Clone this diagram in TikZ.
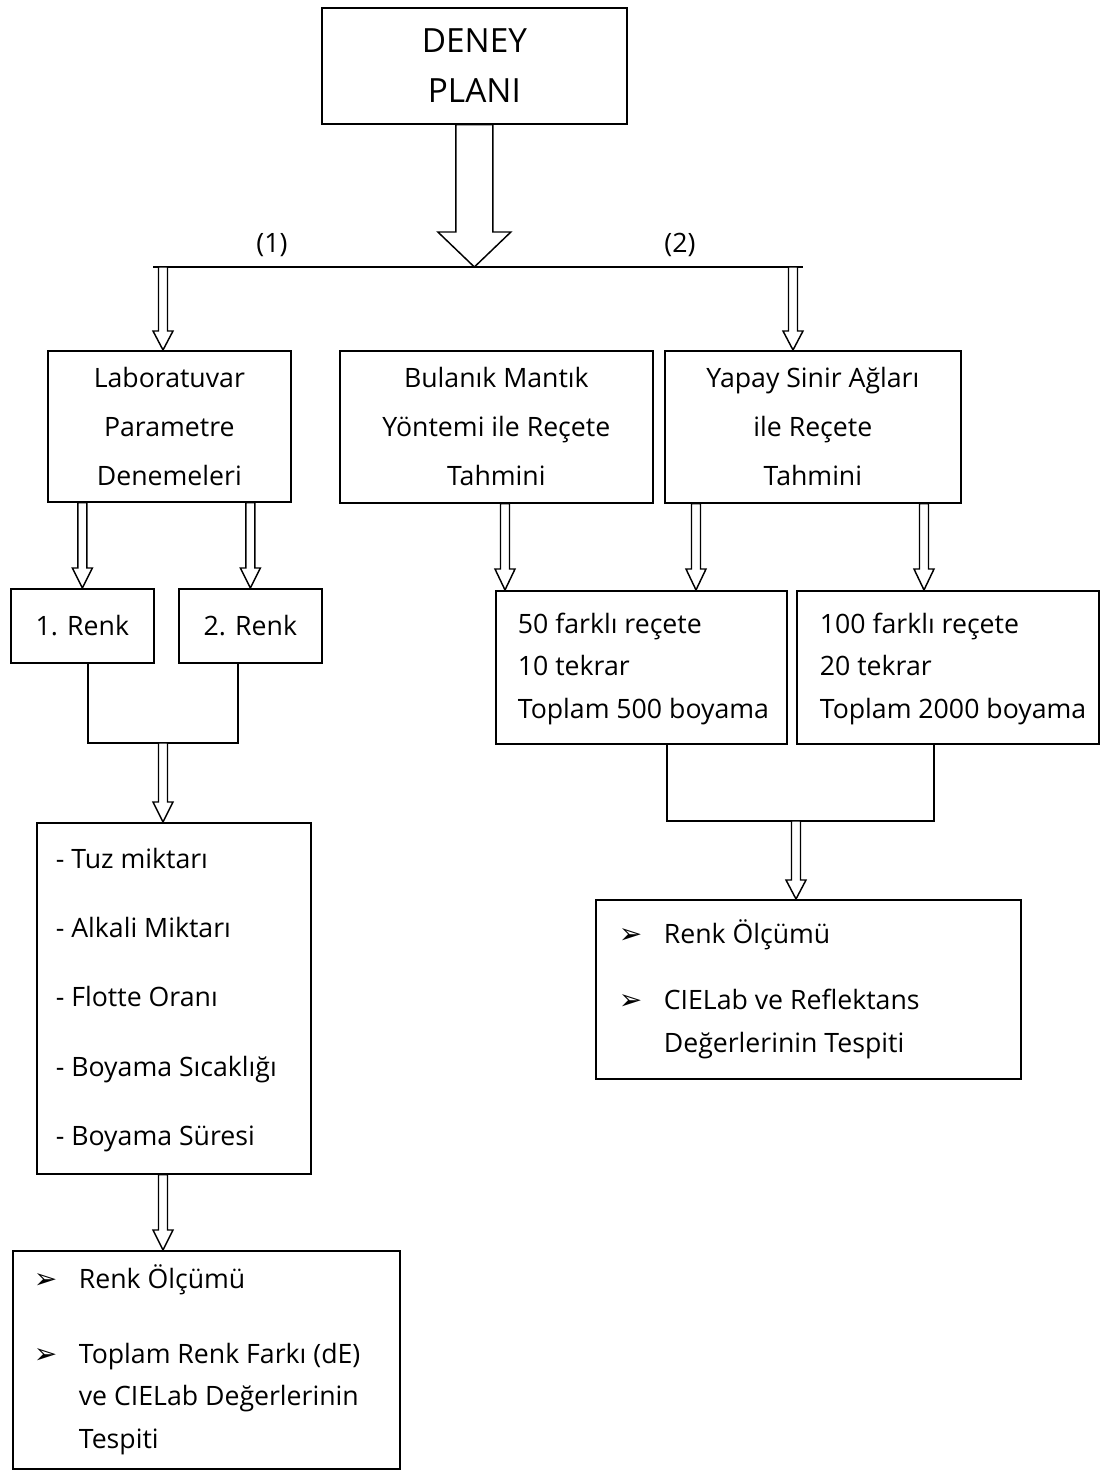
\documentclass[tikz,border=0pt]{standalone}
\usepackage{fontspec}
\setmainfont{Open Sans}
\newfontfamily\symfont{DejaVu Sans}
\usetikzlibrary{calc}

% body text sizes: #1 = baselineskip
\newcommand\bodyfont[1]{\fontsize{20}{#1}\selectfont}
% bullet of the result lists and the hanging indent that goes with it
\newcommand\bul{\makebox[33.75pt][l]{\symfont\fontsize{21}{21}\selectfont ➢}}
\newcommand\hang{\hspace*{33.75pt}}
% fixed-width, left-aligned block of lines (no wrapping)
\newcommand\lines[2]{\makebox[#1][l]{\begin{tabular}{@{}l@{}}#2\end{tabular}}}

% hollow block arrow: start, tip, shaft half-width, head half-width, head length
\newcommand\hollowarrow[5]{%
  \draw[hollow] ($(#1)+(-#3,0)$) -- ($(#2)+(-#3,-#5)$) -- ($(#2)+(-#4,-#5)$)
    -- (#2) -- ($(#2)+(#4,-#5)$) -- ($(#2)+(#3,-#5)$) -- ($(#1)+(#3,0)$) -- cycle;}

\tikzset{
  box/.style={draw, line width=1.3pt, rectangle, inner sep=0pt, anchor=north west},
  title/.style={box, align=center, font=\bodyfont{36.75}},
  list/.style={box, font=\bodyfont{32}},
  flow/.style={draw, line width=1.3pt},
  hollow/.style={draw, line width=1.1pt, fill=white, line join=miter},
}

\begin{document}
\begin{tikzpicture}[x=0.75pt, y=-0.75pt]
\useasboundingbox (0,0) rectangle (1101,1470);

% top of the plan
\node[title, minimum width=228.75pt, minimum height=87pt,
      font=\fontsize{25}{37.5}\selectfont] (plan) at (321,7) {DENEY\\PLANI};

\coordinate (splitL) at (153,267);
\coordinate (splitR) at (803,267);
\draw[flow] (splitL) -- (splitR);
\hollowarrow{plan.south}{plan.south |- splitL}{18.5}{36.5}{35}

\node[font=\bodyfont{24}] (lbl1) at (272,245) {(1)};
\node[font=\bodyfont{24}] (lbl2) at (680,245) {(2)};

% second row
\node[title, minimum width=182.25pt, minimum height=113.25pt] (lab) at (47,350)
  {Laboratuvar\\Parametre\\Denemeleri};
\node[title, minimum width=234.75pt, minimum height=114pt] (bul) at (339,350)
  {Bulanık Mantık\\Yöntemi ile Reçete\\Tahmini};
\node[title, minimum width=222pt, minimum height=114pt] (yap) at (664,350)
  {Yapay Sinir Ağları\\ile Reçete\\Tahmini};

\coordinate (d1) at (163,267);
\coordinate (d2) at (793,267);
\hollowarrow{d1}{lab.north -| d1}{4.5}{10}{19}
\hollowarrow{d2}{yap.north -| d2}{4.5}{10}{19}

% laboratory branch
\node[title, minimum width=107.25pt, minimum height=55.5pt] (r1) at (10,588) {1. Renk};
\node[title, minimum width=107.25pt, minimum height=55.5pt] (r2) at (178,588) {2. Renk};
\hollowarrow{lab.south -| r1.north}{r1.north}{4.5}{10}{20}
\hollowarrow{lab.south -| r2.north}{r2.north}{4.5}{10}{20}

\coordinate (j1) at (88,743);
\coordinate (j2) at (238,743);
\coordinate (jm) at (163,743);
\draw[flow] (r1.south -| j1) -- (j1) -- (j2) -- (r2.south -| j2);

\node[list, minimum width=205.5pt, minimum height=263.25pt, inner xsep=14.25pt] (tuz) at (36,822)
  {\lines{177pt}{- Tuz miktarı\\[20pt]- Alkali Miktarı\\[20pt]- Flotte Oranı\\[20pt]%
   - Boyama Sıcaklığı\\[20pt]- Boyama Süresi}};
\hollowarrow{jm}{tuz.north -| jm}{4.5}{10}{20}

\node[list, minimum width=290.25pt, minimum height=163.5pt, inner xsep=15.75pt] (olc1) at (12,1250)
  {\lines{258.75pt}{\bul Renk Ölçümü\\[24pt]\bul Toplam Renk Farkı (dE)\\%
   \hang ve CIELab Değerlerinin\\\hang Tespiti}};
\hollowarrow{tuz.south -| jm}{olc1.north -| jm}{4.5}{10}{20}

% prediction branches
\node[list, minimum width=218.25pt, minimum height=114.75pt, inner xsep=16.5pt] (b50) at (495,590)
  {\lines{185.25pt}{50 farklı reçete\\10 tekrar\\Toplam 500 boyama}};
\node[list, minimum width=226.5pt, minimum height=114.75pt, inner xsep=17.25pt] (b100) at (796,590)
  {\lines{192pt}{100 farklı reçete\\20 tekrar\\Toplam 2000 boyama}};

\coordinate (t1) at ($(b50.north west)+(10,0)$);
\coordinate (t2) at ($(b50.north west)+(201,0)$);
\coordinate (t3) at ($(b100.north west)+(128,0)$);
\hollowarrow{bul.south -| t1}{t1}{4.5}{10}{21}
\hollowarrow{yap.south -| t2}{t2}{4.5}{10}{21}
\hollowarrow{yap.south -| t3}{t3}{4.5}{10}{21}

\coordinate (k1) at (667,821);
\coordinate (k2) at (934,821);
\coordinate (km) at (796,821);
\draw[flow] (b50.south -| k1) -- (k1) -- (k2) -- (b100.south -| k2);

\node[list, minimum width=318.75pt, minimum height=134.25pt, inner xsep=17.25pt] (olc2) at (595,899)
  {\lines{284.25pt}{\bul Renk Ölçümü\\[18pt]\bul CIELab ve Reflektans\\\hang Değerlerinin Tespiti}};
\hollowarrow{km}{olc2.north -| km}{4.5}{10}{19}

\end{tikzpicture}
\end{document}
